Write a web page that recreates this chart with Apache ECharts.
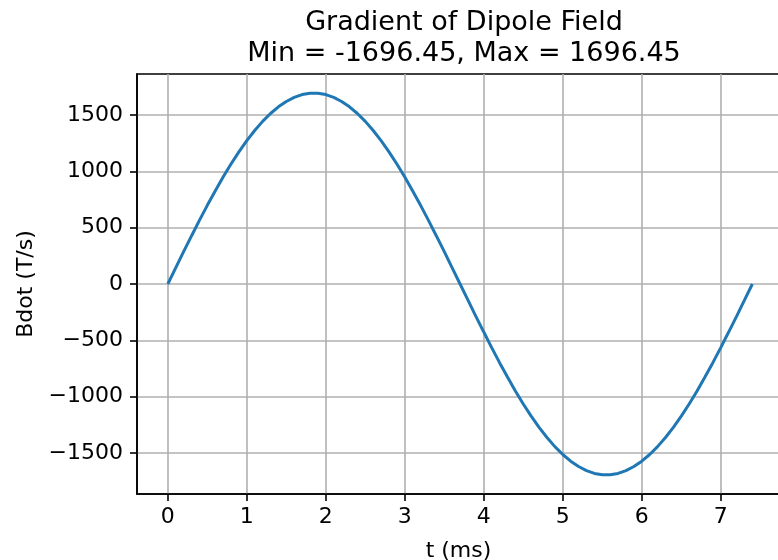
<!DOCTYPE html>
<html>
<head>
<meta charset="utf-8">
<script src="https://cdn.jsdelivr.net/npm/echarts@6/dist/echarts.min.js"></script>
<style>
  html, body { margin: 0; padding: 0; background: #fff; }
  #chart { width: 778px; height: 560px; }
</style>
</head>
<body>
<div id="chart"></div>
<script>
// time in ms, every 0.1 ms
const times = [
  0.0, 0.1, 0.2, 0.3, 0.4, 0.5, 0.6, 0.7, 0.8, 0.9,
  1.0, 1.1, 1.2, 1.3, 1.4, 1.5, 1.6, 1.7, 1.8, 1.9,
  2.0, 2.1, 2.2, 2.3, 2.4, 2.5, 2.6, 2.7, 2.8, 2.9,
  3.0, 3.1, 3.2, 3.3, 3.4, 3.5, 3.6, 3.7, 3.8, 3.9,
  4.0, 4.1, 4.2, 4.3, 4.4, 4.5, 4.6, 4.7, 4.8, 4.9,
  5.0, 5.1, 5.2, 5.3, 5.4, 5.5, 5.6, 5.7, 5.8, 5.9,
  6.0, 6.1, 6.2, 6.3, 6.4, 6.5, 6.6, 6.7, 6.8, 6.9,
  7.0, 7.1, 7.2, 7.3, 7.4
]
// Bdot in T/s
const bdot = [
  0, 144, 287, 427, 565, 699, 827, 950, 1066, 1174,
  1274, 1364, 1445, 1515, 1574, 1622, 1658, 1683, 1695, 1695,
  1683, 1658, 1622, 1574, 1515, 1445, 1364, 1274, 1174, 1066,
  950, 827, 699, 565, 427, 287, 144, 0, -144, -287,
  -427, -565, -699, -827, -950, -1066, -1174, -1274, -1364, -1445,
  -1515, -1574, -1622, -1658, -1683, -1695, -1695, -1683, -1658, -1622,
  -1574, -1515, -1445, -1364, -1274, -1174, -1066, -950, -827, -699,
  -565, -427, -287, -144, 0
]
const xTicks = [0, 1, 2, 3, 4, 5, 6, 7]
const yTicks = [-1500, -1000, -500, 0, 500, 1000, 1500]

const font = 'DejaVu Sans'
const minus = (v) => String(v).replace('-', '\u2212')

const chart = echarts.init(document.getElementById('chart'))

const option = {
  animation: false,
  title: {
    text: 'Gradient of Dipole Field\nMin = -1696.45, Max = 1696.45',
    left: 459,
    top: 2,
    textAlign: 'center',
    textStyle: {
      fontFamily: font,
      fontSize: 27,
      fontWeight: 'normal',
      color: '#000',
      lineHeight: 31,
    },
  },
  grid: {
    left: 137,
    top: 74,
    width: 643,
    height: 420,
    outerBoundsMode: 'none',
    containLabel: false,
    show: true,
    borderColor: '#000',
    borderWidth: 1.6,
  },
  xAxis: {
    type: 'value',
    min: -0.39,
    max: 7.75,
    name: 't (ms)',
    nameLocation: 'middle',
    nameGap: 46,
    nameTextStyle: { fontFamily: font, fontSize: 22, color: '#000' },
    axisLine: { onZero: false, lineStyle: { color: '#000', width: 1.6 } },
    axisTick: { customValues: xTicks, length: 7, lineStyle: { color: '#000', width: 1.6 } },
    axisLabel: {
      customValues: xTicks,
      margin: 12,
      fontFamily: font,
      fontSize: 22,
      color: '#000',
      formatter: minus,
    },
    splitLine: { show: true, lineStyle: { color: '#b0b0b0', width: 1.6 } },
  },
  yAxis: {
    type: 'value',
    min: -1866,
    max: 1866,
    name: 'Bdot (T/s)',
    nameLocation: 'middle',
    nameGap: 100,
    nameTextStyle: { fontFamily: font, fontSize: 22, color: '#000' },
    axisLine: { show: true, onZero: false, lineStyle: { color: '#000', width: 1.6 } },
    axisTick: { show: true, customValues: yTicks, length: 7, lineStyle: { color: '#000', width: 1.6 } },
    axisLabel: {
      customValues: yTicks,
      margin: 14,
      fontFamily: font,
      fontSize: 22,
      color: '#000',
      formatter: minus,
    },
    splitLine: { show: true, lineStyle: { color: '#b0b0b0', width: 1.6 } },
  },
  series: [
    {
      type: 'line',
      data: times.map((t, i) => [t, bdot[i]]),
      showSymbol: false,
      lineStyle: { color: '#1f77b4', width: 3 },
    },
  ],
}

chart.setOption(option)
</script>
</body>
</html>
